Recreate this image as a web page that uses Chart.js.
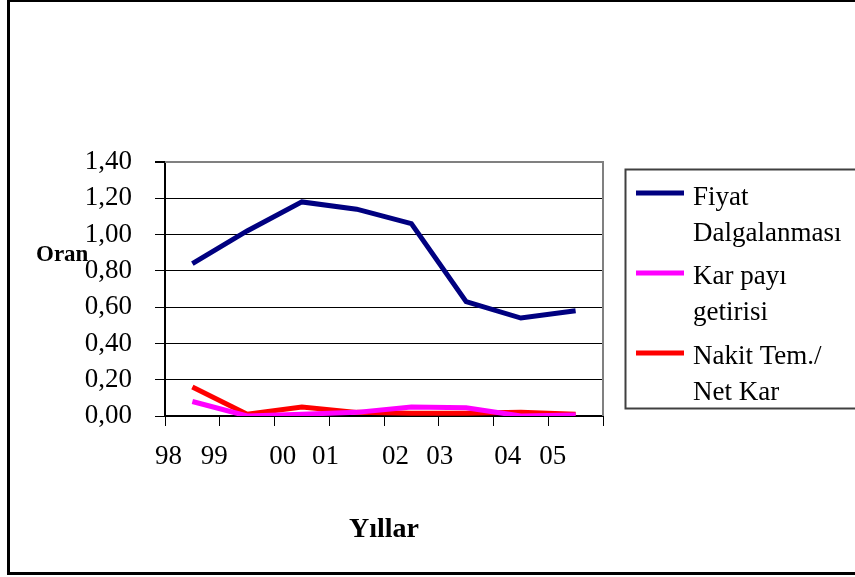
<!DOCTYPE html>
<html>
<head>
<meta charset="utf-8">
<script src="https://cdn.jsdelivr.net/npm/chart.js@4.4.1/dist/chart.umd.min.js"></script>
<style>
  html, body { margin: 0; padding: 0; background: #fff; }
  #wrap { width: 855px; height: 577px; position: relative; }
</style>
</head>
<body>
<div id="wrap"><canvas id="c"></canvas></div>
<script>
// Years and ratios
const years = ['98', '99', '00', '01', '02', '03', '04', '05'];
const fiyatDalgalanmasi = [0.84, 1.02, 1.18, 1.14, 1.06, 0.63, 0.54, 0.58];
const karPayiGetirisi   = [0.08, 0.00, 0.01, 0.02, 0.05, 0.045, 0.00, 0.005];
const nakitTemNetKar    = [0.16, 0.01, 0.05, 0.02, 0.015, 0.015, 0.02, 0.01];
const yTickValues = [0, 0.2, 0.4, 0.6, 0.8, 1.0, 1.2, 1.4];
const yTickLabels = ['0,00', '0,20', '0,40', '0,60', '0,80', '1,00', '1,20', '1,40'];
const seriesNames = [['Fiyat', 'Dalgalanması'], ['Kar payı', 'getirisi'], ['Nakit Tem./', 'Net Kar']];

// where each year label sits relative to its category slot
const yearLabelShift = [-0.435, -0.60, -0.35, -0.57, -0.29, -0.48, -0.24, -0.42];

const SERIF = '"Liberation Serif", "Times New Roman", serif';

const framePlugin = {
  id: 'frame',
  beforeDraw(chart) {
    const ctx = chart.ctx;
    ctx.save();
    ctx.fillStyle = '#fff';
    ctx.fillRect(0, 0, chart.width, chart.height);
    ctx.fillStyle = '#000';
    ctx.fillRect(7, 0, 3, 575);
    ctx.fillRect(7, 0, 900, 2);
    ctx.fillRect(7, 572, 900, 3);
    ctx.restore();
  },
  beforeDatasetsDraw(chart) {
    const {ctx, chartArea: a} = chart;
    ctx.save();
    ctx.strokeStyle = '#808080';
    ctx.lineWidth = 2;
    ctx.beginPath();
    ctx.moveTo(a.left, a.top);
    ctx.lineTo(a.right, a.top);
    ctx.lineTo(a.right, a.bottom);
    ctx.stroke();
    ctx.restore();
  },
  afterDraw(chart) {
    const {ctx, chartArea: a} = chart;
    ctx.save();
    // y axis caption
    ctx.fillStyle = '#000';
    ctx.font = 'bold 23px ' + SERIF;
    ctx.textBaseline = 'alphabetic';
    ctx.textAlign = 'left';
    ctx.fillText('Oran', 36, 261);

    // legend box
    const bx = a.right + 22, by = 169;
    ctx.strokeStyle = '#404040';
    ctx.lineWidth = 2;
    ctx.strokeRect(bx + 0.5, by + 0.5, 300, 239);
    const rowBase = [205, 284, 364];
    const lineY = [193, 273, 353];
    chart.data.datasets.forEach((ds, i) => {
      ctx.strokeStyle = ds.borderColor;
      ctx.lineWidth = 5;
      ctx.beginPath();
      ctx.moveTo(bx + 11, lineY[i]);
      ctx.lineTo(bx + 59, lineY[i]);
      ctx.stroke();
      ctx.fillStyle = '#000';
      ctx.font = '27px ' + SERIF;
      seriesNames[i].forEach((t, k) => ctx.fillText(t, bx + 68, rowBase[i] + k * 36));
    });
    ctx.restore();
  }
};

new Chart(document.getElementById('c'), {
  type: 'line',
  data: {
    labels: years,
    datasets: [
      { label: seriesNames[0].join(' '), data: fiyatDalgalanmasi, borderColor: '#000080' },
      { label: seriesNames[1].join(' '), data: karPayiGetirisi, borderColor: '#FF00FF' },
      { label: seriesNames[2].join(' '), data: nakitTemNetKar, borderColor: '#FF0000' }
    ]
  },
  options: {
    responsive: true,
    maintainAspectRatio: false,
    animation: false,
    events: [],
    elements: {
      line: { borderWidth: 5, tension: 0, borderCapStyle: 'butt', borderJoinStyle: 'miter' },
      point: { radius: 0 }
    },
    layout: { padding: { left: 10, top: 162, right: 252, bottom: 0 } },
    plugins: { legend: { display: false }, tooltip: { enabled: false }, title: { display: false } },
    scales: {
      x: {
        type: 'category',
        position: 'bottom',
        offset: true,
        grid: { display: true, offset: true, drawOnChartArea: false, drawTicks: true, tickLength: 10, color: '#000', lineWidth: 1 },
        border: { display: true, color: '#000', width: 2 },
        ticks: { display: false },
        afterFit(s) { s.height = 10; }
      },
      x2: {
        type: 'linear',
        position: 'bottom',
        min: -0.5,
        max: 7.5,
        grid: { display: false, drawTicks: false },
        border: { display: false },
        afterBuildTicks(s) { s.ticks = years.map((_, i) => ({ value: i + yearLabelShift[i] })); },
        ticks: {
          autoSkip: false, maxRotation: 0, minRotation: 0, padding: 15,
          color: '#000', font: { family: SERIF, size: 27 },
          callback: (v, i) => years[i]
        },
        title: { display: true, text: 'Yıllar', color: '#000', font: { family: SERIF, size: 28, weight: 'bold' }, padding: { top: 0, bottom: 30 } },
        afterFit(s) { s.height = 151; }
      },
      y: {
        min: 0,
        max: 1.4,
        afterBuildTicks(s) { s.ticks = yTickValues.map(v => ({ value: v })); },
        grid: {
          color: c => (c.tick && c.tick.value === 1.4 ? '#808080' : '#000'),
          lineWidth: c => (c.tick && c.tick.value === 1.4 ? 2 : 1),
          tickColor: '#000', tickLength: 10, drawTicks: true
        },
        border: { display: true, color: '#000', width: 2 },
        ticks: {
          padding: 23, color: '#000', font: { family: SERIF, size: 27 },
          callback: (v, i) => yTickLabels[i]
        },
        afterFit(s) { s.width = 155; }
      }
    }
  },
  plugins: [framePlugin]
});
</script>
</body>
</html>
